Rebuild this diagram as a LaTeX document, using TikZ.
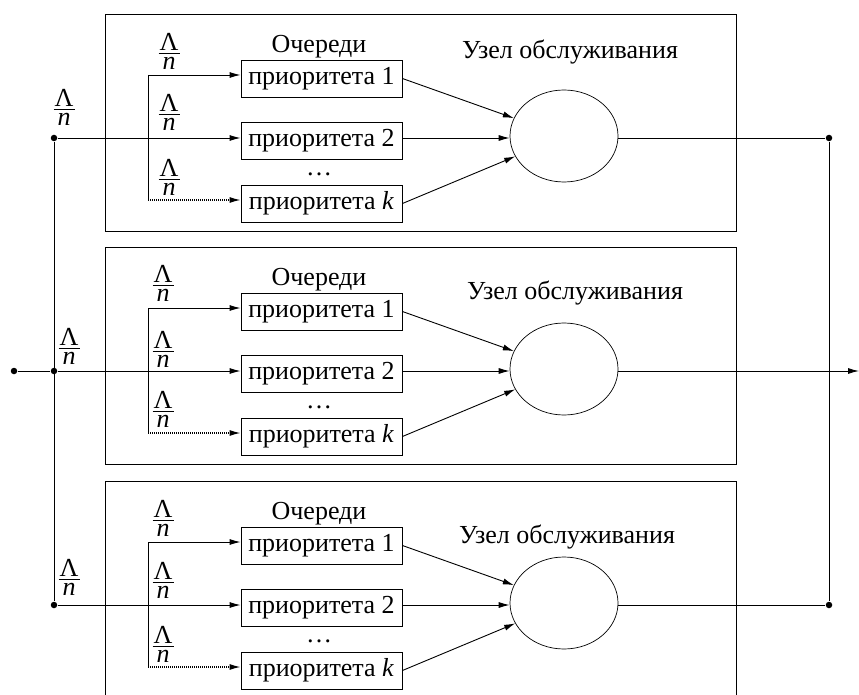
\documentclass[tikz,border=0pt]{standalone}
\usepackage{fontspec}
\setmainfont{Liberation Serif}
\usetikzlibrary{arrows.meta,shapes.geometric}
% stacked rate  Lambda / n
\newcommand\rate{\vbox{\fontsize{26}{28}\selectfont
  \hbox to 21pt{\hss Λ\hss}\kern3pt\hrule height 0.9pt\kern3pt
  \hbox to 21pt{\hss\itshape n\hss}}}
\begin{document}
\begin{tikzpicture}[x=1pt,y=-1pt,line width=0.9pt,
  every node/.style={font=\fontsize{26}{30}\selectfont},
  panel/.style={draw,minimum width=631pt,minimum height=217pt,inner sep=0pt},
  queue/.style={draw,minimum width=161pt,minimum height=37pt,inner sep=0pt},
  server/.style={draw,ellipse,minimum width=108pt,minimum height=92pt,inner sep=0pt,line width=0.7pt},
  flow/.style={-{Latex[length=11pt,width=6pt]}},
  dotflow/.style={flow,dash pattern=on 1.2pt off 0.8pt,line width=1.3pt},
  junction/.style={circle,fill,inner sep=0pt,minimum size=6.5pt},
  ratelabel/.style={inner sep=0pt}]
\useasboundingbox (0,0) rectangle (859,695);
\clip (0,0) rectangle (859,695);

% three identical service stations
\foreach \i/\y/\ux/\uy/\lx/\ly/\fx/\fa/\fb/\fc in
  {1/138/570/52/64/-31/169/-87/-26/39,
   2/371/575/293/69/-25/163/-88/-22/38,
   3/605/567/537/69/-28/163/-87/-25/39}{
  \node[panel] (p\i) at (420.5,\y-15.5) {};
  \coordinate (p\i-m) at (300,\y);
  \coordinate (p\i-bt) at (148,\y-63);
  \coordinate (p\i-bb) at (148,\y+62);
  \node[queue] (p\i-q1) at (321.5,\y-59.5) {приоритета 1};
  \node[queue] (p\i-q2) at (321.5,\y+3) {приоритета 2};
  \node[queue] (p\i-qk) at (321.5,\y+65.5) {приоритета \textit{k}};
  \node (p\i-title) at (319,\y-91) {Очереди};
  \node (p\i-dots) at (319,\y+36) {…};
  \node[server] (p\i-srv) at (564,\y-2) {};
  \node (p\i-srvlabel) at (\ux,\uy) {Узел обслуживания};
  \node[junction] (in\i) at (54,\y) {};
  \node[ratelabel] (p\i-rin) at (\lx,\y+\ly) {\rate};
  \node[ratelabel] (p\i-r1) at (\fx,\y+\fa) {\rate};
  \node[ratelabel] (p\i-r2) at (\fx,\y+\fb) {\rate};
  \node[ratelabel] (p\i-r3) at (\fx,\y+\fc) {\rate};
  % input splitting into priority queues
  \draw[flow] (in\i) -- (p\i-q2.west |- in\i);
  \draw (p\i-bt) -- (p\i-bb);
  \draw[flow] (p\i-bt) -- (p\i-bt -| p\i-q1.west);
  \draw[dotflow] (p\i-bb) -- (p\i-bb -| p\i-qk.west);
  % queues feeding the server
  \draw[flow] (p\i-q1.east) -- (p\i-srv);
  \draw[flow] (p\i-q2.east |- p\i-m) -- (p\i-m -| p\i-srv.west);
  \draw[flow] (p\i-qk.east) -- (p\i-srv);
}

% input bus
\node[junction] (src) at (14,371) {};
\draw (src) -- (in2);
\draw (in1) -- (in3);

% output bus
\node[junction] (out1) at (829,138) {};
\node[junction] (out3) at (829,605) {};
\coordinate (sink) at (859,371);
\draw (out1) -- (out3);
\draw (p1-srv.east |- p1-m) -- (out1);
\draw (p3-srv.east |- p3-m) -- (out3);
\draw[flow] (p2-srv.east |- p2-m) -- (sink);
\end{tikzpicture}
\end{document}
